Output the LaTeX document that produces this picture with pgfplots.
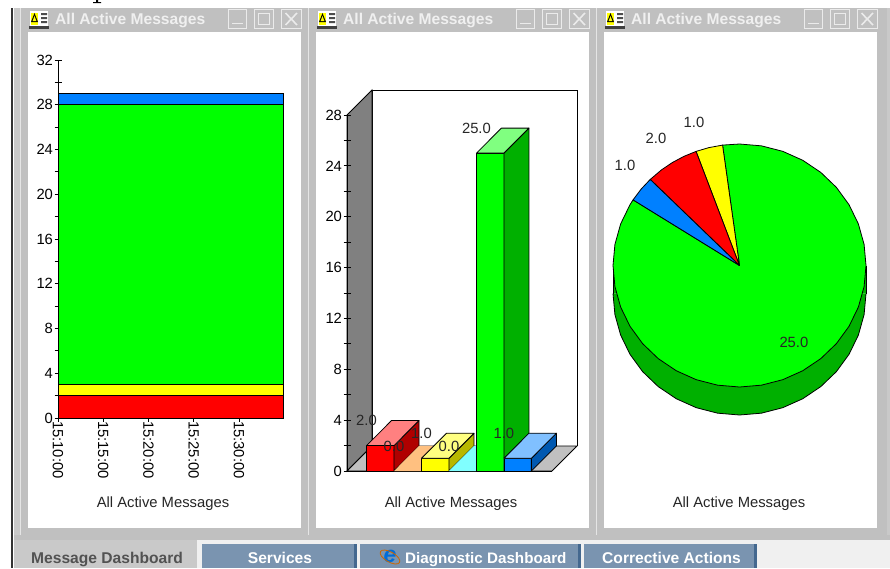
\documentclass[border=0pt]{standalone}
\usepackage{fontspec}
\setmainfont{Liberation Sans}
\usepackage{pgfplots}
\pgfplotsset{compat=1.18}

\definecolor{frame}{HTML}{C0C0C0}
\definecolor{panel}{HTML}{C9C9C9}
\definecolor{tabblue}{HTML}{7A94B0}
\definecolor{tabedge}{HTML}{44688F}
\definecolor{cred}{HTML}{FF0000}
\definecolor{cyel}{HTML}{FFFF00}
\definecolor{cgrn}{HTML}{00FF00}
\definecolor{cblu}{HTML}{0080FF}
\definecolor{sgrn}{HTML}{00B000}
\newcommand{\chartfont}{\fontsize{14.8}{16}\selectfont}
\newcommand{\barfont}{\fontsize{15.6}{16}\selectfont\bfseries}

% title bar of one window, x offset as argument
\newcommand{\titlebar}[1]{%
  \begin{scope}[xshift=#1pt]
    \fill[frame] (20,8) rectangle (311,535);
    \fill[white] (28,32) rectangle (301,528);
    \draw[white!90!black, line width=0.8] (20.5,535) -- (20.5,8);
    \node[anchor=west, text=white!94!black, inner sep=0pt, font=\barfont] at (55,20.5) {All Active Messages};
    % icon
    \fill[black!75] (29,26) rectangle (49,29);
    \fill[white] (30,11) rectangle (48,26);
    \fill[cyel] (31,13) rectangle (38,25);
    \fill[black] (34.5,13) -- (38,22) -- (31,22) -- cycle;
    \fill[cyel] (34.5,16) -- (36.4,21) -- (32.6,21) -- cycle;
    \fill[black!70] (41,13) rectangle (47,15) (41,17) rectangle (47,19) (41,21) rectangle (47,23);
    % buttons
    \draw[white!92!black, line width=0.9] (228.5,9.5) rectangle (246,28) (254.5,9.5) rectangle (273,28) (281.5,9.5) rectangle (301,28);
    \draw[white!92!black, line width=1.6] (232,23.5) -- (243,23.5);
    \draw[white!92!black, line width=0.9] (258,13.5) rectangle (269.5,24);
    \draw[white!92!black, line width=1.6] (285.5,13) -- (297,25) (297,13) -- (285.5,25);
  \end{scope}}

\begin{document}
\begin{tikzpicture}
% window furniture, in picture pixels measured from the top left
\begin{scope}[x=1pt, y=-1pt]
  \path[use as bounding box] (0,0) rectangle (890,568);
  \fill[white] (0,0) rectangle (890,568);
  \fill[black] (96,0) rectangle (98,3.2) (93,2.2) rectangle (101,3.2);
  \fill[panel] (14,8) rectangle (890,568);
  \fill[black!80] (10.5,8) rectangle (13,568);
  \titlebar{0}
  \titlebar{288}
  \titlebar{576}
  % bottom strip and tabs
  \fill[frame] (14,535) rectangle (890,540);
  \fill[white!94!black] (197,540) rectangle (890,568);
  \fill[tabblue] (202,544) rectangle (354,568);
  \fill[tabedge] (354,544) rectangle (357,568);
  \fill[tabblue] (360,544) rectangle (578,568);
  \fill[tabedge] (578,544) rectangle (581,568);
  \fill[tabblue] (584,544) rectangle (754,568);
  \fill[tabedge] (754,544) rectangle (757,568);
  \node[anchor=base west, inner sep=0pt, text=black!68, font=\barfont] at (31,563) {Message Dashboard};
  \node[anchor=base, inner sep=0pt, text=white, font=\barfont] at (280,563) {Services};
  \node[anchor=base west, inner sep=0pt, text=white, font=\fontsize{15.2}{16}\selectfont\bfseries] at (405,563) {Diagnostic Dashboard};
  \node[anchor=base west, inner sep=0pt, text=white, font=\barfont] at (602,563) {Corrective Actions};
  \node[inner sep=0pt, text=cblu!85!black, font=\fontsize{23}{23}\selectfont\bfseries\itshape] at (390,556) {e};
  \draw[orange!80!black, line width=0.8] (390,557) ellipse[x radius=11, y radius=5, rotate=-30];
  % back walls of the bar chart
  \fill[white] (372,90) rectangle (577,446);
  \draw[black, line width=0.9] (372,446) -- (372,90) -- (577,90) -- (577,446);
  \filldraw[fill=black!50, draw=black, line width=0.9] (347,115) -- (372,90) -- (372,446) -- (347,471) -- cycle;
  \filldraw[fill=frame, draw=black, line width=0.9] (347,471) -- (372,446) -- (577,446) -- (552,471) -- cycle;
  % captions
  \node[font=\chartfont, text=black!85] at (163,504) {All Active Messages};
  \node[font=\chartfont, text=black!85] at (451,504) {All Active Messages};
  \node[font=\chartfont, text=black!85] at (739,504) {All Active Messages};
\end{scope}

% stacked area chart
\begin{axis}[
  at={(58pt,-418pt)}, anchor=south west, scale only axis,
  width=225pt, height=358pt,
  xmin=10, xmax=34.86, ymin=0, ymax=32,
  stack plots=y, clip=false,
  axis x line*=bottom, axis y line*=left,
  axis line style={-, line width=0.9pt},
  xtick={10,15,20,25,30},
  xticklabels={15:10:00,15:15:00,15:20:00,15:25:00,15:30:00},
  ytick={0,4,...,32}, minor y tick num=1,
  tick align=center, major tick length=7pt, minor tick length=7pt,
  tick style={black, line width=0.9pt},
  tick label style={font=\chartfont, /pgf/number format/assume math mode=true},
  xticklabel style={rotate=-90, anchor=west, xshift=-4pt},
  yticklabel style={xshift=2pt},
]
\addplot[fill=cred, draw=black, line width=0.8pt] coordinates {(10,2) (15,2) (20,2) (25,2) (30,2) (34.86,2)} \closedcycle;
\addplot[fill=cyel, draw=black, line width=0.8pt] coordinates {(10,1) (15,1) (20,1) (25,1) (30,1) (34.86,1)} \closedcycle;
\addplot[fill=cgrn, draw=black, line width=0.8pt] coordinates {(10,25) (15,25) (20,25) (25,25) (30,25) (34.86,25)} \closedcycle;
\addplot[fill=cblu, draw=black, line width=0.8pt] coordinates {(10,1) (15,1) (20,1) (25,1) (30,1) (34.86,1)} \closedcycle;
\end{axis}

% 3D bars: front, side and top of each bar, depth is 0.91 across and 1.97 up
\begin{axis}[
  at={(347pt,-471pt)}, anchor=south west, scale only axis,
  width=205pt, height=356pt,
  xmin=-0.71, xmax=6.75, ymin=0, ymax=28,
  clip=false,
  axis x line*=bottom, axis y line*=left,
  axis line style={-, line width=0.9pt},
  xtick=\empty,
  ytick={0,4,...,28}, minor y tick num=1,
  tick align=center, major tick length=7pt, minor tick length=7pt,
  tick style={black, line width=0.9pt},
  tick label style={font=\chartfont, /pgf/number format/assume math mode=true},
  yticklabel style={xshift=2pt},
  every axis plot/.append style={draw=black, line width=0.8pt, line join=round, mark=none},
]
% red, 2
\addplot[fill=cred] coordinates {(0,0) (1,0) (1,2) (0,2) (0,0)};
\addplot[fill={rgb,255:red,176;green,0;blue,0}] coordinates {(1,0) (1.91,1.97) (1.91,3.97) (1,2) (1,0)};
\addplot[fill={rgb,255:red,255;green,128;blue,128}] coordinates {(0,2) (0.91,3.97) (1.91,3.97) (1,2) (0,2)};
% orange, 0
\addplot[fill={rgb,255:red,255;green,192;blue,128}, draw=none] coordinates {(1,0) (1.91,1.97) (2.91,1.97) (2,0) (1,0)};
% yellow, 1
\addplot[fill=cyel] coordinates {(2,0) (3,0) (3,1) (2,1) (2,0)};
\addplot[fill={rgb,255:red,184;green,184;blue,0}] coordinates {(3,0) (3.91,1.97) (3.91,2.97) (3,1) (3,0)};
\addplot[fill={rgb,255:red,255;green,255;blue,128}] coordinates {(2,1) (2.91,2.97) (3.91,2.97) (3,1) (2,1)};
% cyan, 0
\addplot[fill={rgb,255:red,128;green,255;blue,255}, draw=none] coordinates {(3,0) (3.91,1.97) (4.91,1.97) (4,0) (3,0)};
% green, 25
\addplot[fill=cgrn] coordinates {(4,0) (5,0) (5,25) (4,25) (4,0)};
\addplot[fill=sgrn] coordinates {(5,0) (5.91,1.97) (5.91,26.97) (5,25) (5,0)};
\addplot[fill={rgb,255:red,128;green,255;blue,128}] coordinates {(4,25) (4.91,26.97) (5.91,26.97) (5,25) (4,25)};
% blue, 1
\addplot[fill=cblu] coordinates {(5,0) (6,0) (6,1) (5,1) (5,0)};
\addplot[fill={rgb,255:red,0;green,88;blue,176}] coordinates {(6,0) (6.91,1.97) (6.91,2.97) (6,1) (6,0)};
\addplot[fill={rgb,255:red,128;green,192;blue,255}] coordinates {(5,1) (5.91,2.97) (6.91,2.97) (6,1) (5,1)};
\node[font=\chartfont, text=black!85] at (axis cs:0,3.97) {2.0};
\node[font=\chartfont, text=black!85] at (axis cs:1,1.97) {0.0};
\node[font=\chartfont, text=black!85] at (axis cs:2,2.97) {1.0};
\node[font=\chartfont, text=black!85] at (axis cs:3,1.97) {0.0};
\node[font=\chartfont, text=black!85] at (axis cs:4,26.97) {25.0};
\node[font=\chartfont, text=black!85] at (axis cs:5,2.97) {1.0};
\end{axis}

% pie, angles in degrees from the slice values 1, 2, 1, 25 of 29
\begin{axis}[
  at={(613pt,-387pt)}, anchor=south west, scale only axis,
  width=253pt, height=243pt,
  xmin=-1, xmax=1, ymin=-1, ymax=1,
  hide axis, clip=false,
  every axis plot/.append style={draw=black, line width=0.8pt, line join=round, mark=none},
]
% rim of the disc
\addplot[fill=sgrn, data cs=polar, yshift=-28pt] coordinates {(180,1) (190,1) (200,1) (210,1) (220,1) (230,1) (240,1) (250,1) (260,1) (270,1) (280,1) (290,1) (300,1) (310,1) (320,1) (330,1) (340,1) (350,1) (360,1)};
\addplot[fill=sgrn, draw=none] coordinates {(-1,0) (1,0) (1,-0.2305) (-1,-0.2305) (-1,0)};
\addplot[black] coordinates {(-1,0) (-1,-0.2305)};
\addplot[black] coordinates {(1,0) (1,-0.2305)};
% slices
\addplot[fill=cgrn, data cs=polar] coordinates {(0,0) (147.3,1) (150,1) (160,1) (170,1) (180,1) (190,1) (200,1) (210,1) (220,1) (230,1) (240,1) (250,1) (260,1) (270,1) (280,1) (290,1) (300,1) (310,1) (320,1) (330,1) (340,1) (350,1) (360,1) (370,1) (380,1) (390,1) (400,1) (410,1) (420,1) (430,1) (440,1) (450,1) (457.7,1) (0,0)};
\addplot[fill=cyel, data cs=polar] coordinates {(0,0) (97.7,1) (104,1) (110.1,1) (0,0)};
\addplot[fill=cred, data cs=polar] coordinates {(0,0) (110.1,1) (116,1) (122,1) (128,1) (134.9,1) (0,0)};
\addplot[fill=cblu, data cs=polar] coordinates {(0,0) (134.9,1) (141,1) (147.3,1) (0,0)};
\node[font=\chartfont, text=black!85] at (axis cs:-0.905,0.825) {1.0};
\node[font=\chartfont, text=black!85] at (axis cs:-0.66,1.05) {2.0};
\node[font=\chartfont, text=black!85] at (axis cs:-0.36,1.18) {1.0};
\node[font=\chartfont, text=black!85] at (axis cs:0.43,-0.63) {25.0};
\end{axis}
\end{tikzpicture}
\end{document}
